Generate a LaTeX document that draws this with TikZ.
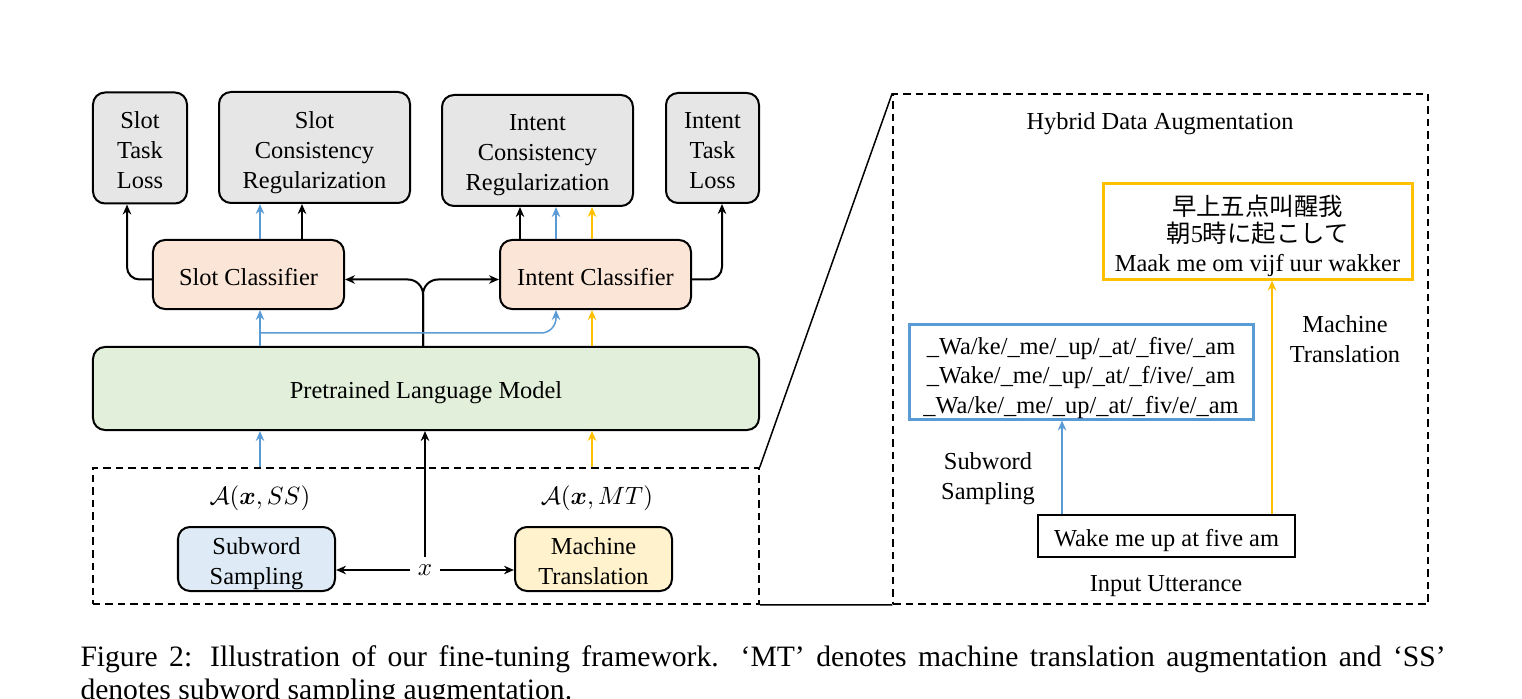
\documentclass[tikz,border=0pt]{standalone}
\usepackage{amsmath}
\usepackage{amssymb}
\usepackage{fontspec}
\setmainfont{Liberation Serif}
\newfontfamily\zhfont{Noto Sans CJK SC}
\newfontfamily\jafont{Noto Sans CJK JP}
\usetikzlibrary{calc,arrows.meta}
\definecolor{lossgray}{HTML}{E6E6E6}
\definecolor{clspeach}{HTML}{FBE5D6}
\definecolor{plmgreen}{HTML}{E2EFDA}
\definecolor{ssblue}{HTML}{DEEBF7}
\definecolor{mtyellow}{HTML}{FFF2CC}
\definecolor{lineblue}{HTML}{5B9BD5}
\definecolor{lineyellow}{HTML}{FFC000}
\newcommand\dgfont{\fontsize{9.76}{12}\selectfont}
\newcommand\capfont{\fontsize{11.84}{13.2}\selectfont}
\newcommand\boxlines[2][1.9pt]{\raisebox{-#1}[\height][\depth]{\begin{tabular}{@{}c@{}}#2\end{tabular}}}

\begin{document}
\begin{tikzpicture}[
x=0.4pt, y=-0.4pt,
box/.style={draw, line width=0.8pt, rounded corners=4.8pt, inner sep=0pt, font=\dgfont},
plainbox/.style={draw, inner sep=0pt, font=\dgfont},
dashbox/.style={draw, line width=0.6pt, dash pattern=on 3pt off 2pt, inner sep=0pt},
label/.style={align=center, inner sep=0pt, font=\dgfont},
karrow/.style={-{Stealth[length=4pt,width=3.4pt]}, line width=0.8pt},
barrow/.style={-{Stealth[length=4pt,width=3.4pt]}, line width=0.6pt, lineblue},
yarrow/.style={-{Stealth[length=4pt,width=3.4pt]}, line width=0.6pt, lineyellow}
]

\useasboundingbox (0,0) rectangle (1522,699);

\node[dashbox, minimum width=266.4pt, minimum height=54.4pt] (AUG) at (426,536) {};
\node[dashbox, minimum width=214pt, minimum height=204pt] (HDA) at (1160.5,349) {};
\draw[line width=0.6pt] (AUG.north east) -- (HDA.north west);
\draw[line width=0.6pt] (AUG.south east) -- (HDA.south west);

\node[box, fill=lossgray, minimum width=37.6pt, minimum height=44.4pt] (SL) at (140,148) {\boxlines{Slot\\Task\\Loss}};
\node[box, fill=lossgray, minimum width=76.4pt, minimum height=44.4pt] (SCR) at (314.5,147.5) {\boxlines{Slot\\Consistency\\Regularization}};
\node[box, fill=lossgray, minimum width=76.4pt, minimum height=44.4pt] (ICR) at (537.5,150.5) {\boxlines[1.5pt]{Intent\\Consistency\\Regularization}};
\node[box, fill=lossgray, minimum width=37.2pt, minimum height=44pt] (IL) at (712.5,148) {\boxlines{Intent\\Task\\Loss}};

\node[box, fill=clspeach, minimum width=76.4pt, minimum height=27.6pt] (SC) at (248.5,274.5) {\boxlines{Slot Classifier}};
\node[box, fill=clspeach, minimum width=76.4pt, minimum height=27.6pt] (IC) at (595.5,274.5) {\boxlines{Intent Classifier}};
\node[box, fill=plmgreen, minimum width=266.4pt, minimum height=33.2pt] (PLM) at (426,388.5) {\boxlines[1.5pt]{Pretrained Language Model}};

\node[box, fill=ssblue, minimum width=62.8pt, minimum height=25.6pt] (SS) at (256.5,559) {\boxlines[1.7pt]{Subword\\Sampling}};
\node[box, fill=mtyellow, minimum width=62.8pt, minimum height=25.6pt] (MT) at (593.5,559) {\boxlines[1.7pt]{Machine\\Translation}};
\node[label, inner sep=3pt] (X) at (425,570) {$x$};
\node[label] (ASS) at (260,498) {$\mathcal{A}(\boldsymbol{x}, SS)$};
\node[label] (AMT) at (597,498) {$\mathcal{A}(\boldsymbol{x}, MT)$};

\coordinate (cL) at (127,0);
\coordinate (cB1) at (260,0);
\coordinate (cK1) at (302,0);
\coordinate (cX) at (423,0);
\coordinate (cK2) at (520,0);
\coordinate (cB2) at (556,0);
\coordinate (cY) at (592,0);
\coordinate (cR) at (722,0);
\coordinate (B) at (260,333);

\draw[karrow, rounded corners=5pt] ([yshift=-2pt]SC.west) -| (SL.south -| cL);
\draw[barrow] (SC.north -| cB1) -- (SCR.south -| cB1);
\draw[karrow] (SC.north -| cK1) -- (SCR.south -| cK1);
\draw[karrow] (IC.north -| cK2) -- (ICR.south -| cK2);
\draw[barrow] (IC.north -| cB2) -- (ICR.south -| cB2);
\draw[yarrow] (IC.north -| cY) -- (ICR.south -| cY);
\draw[karrow, rounded corners=5pt] ([yshift=-2pt]IC.east) -| (IL.south -| cR);

\draw[karrow, rounded corners=6pt] (PLM.north -| cX) |- ([yshift=-2pt]SC.east);
\draw[karrow, rounded corners=6pt] (PLM.north -| cX) |- ([yshift=-2pt]IC.west);
\draw[barrow] (PLM.north -| cB1) -- (SC.south -| cB1);
\draw[barrow, rounded corners=6pt] (B) -| (IC.south -| cB2);
\draw[yarrow] (PLM.north -| cY) -- (IC.south -| cY);

\draw[barrow] (AUG.north -| cB1) -- (PLM.south -| cB1);
\draw[karrow] (X.north) -- (PLM.south -| X.north);
\draw[yarrow] (AUG.north -| cY) -- (PLM.south -| cY);
\draw[karrow] (X.west) -- (X.west -| SS.east);
\draw[karrow] (X.east) -- (X.east -| MT.west);

\node[label] (TITLE) at (1160,124) {Hybrid Data Augmentation};
\node[plainbox, draw=lineyellow, line width=1.2pt, minimum width=123.6pt, minimum height=38pt] (TR) at (1257.5,231.5)
  {\boxlines[2.4pt]{{\zhfont 早上五点叫醒我}\\[-1pt]{\jafont 朝}5{\jafont 時に起こして}\\[-0.4pt]Maak me om vijf uur wakker}};
\node[plainbox, draw=lineblue, line width=1.2pt, minimum width=137.6pt, minimum height=37.6pt, font=\fontsize{9.76}{11.8}\selectfont] (SUB) at (1081,372)
  {\boxlines[2.3pt]{\_Wa/ke/\_me/\_up/\_at/\_five/\_am\\\_Wake/\_me/\_up/\_at/\_f/ive/\_am\\\_Wa/ke/\_me/\_up/\_at/\_fiv/e/\_am}};
\node[plainbox, line width=0.8pt, minimum width=102.8pt, minimum height=16.8pt] (IN) at (1166.5,536) {\boxlines[1.7pt]{Wake me up at five am}};
\node[label] (INL) at (1166,586) {Input Utterance};
\node[label] (MTL) at (1345,339) {Machine\\Translation};
\node[label] (SSL) at (988,479) {Subword\\Sampling};

\coordinate (cS) at (1062,0);
\coordinate (cT) at (1272,0);
\draw[barrow] (IN.north -| cS) -- (SUB.south -| cS);
\draw[yarrow] (IN.north -| cT) -- (TR.south -| cT);

\node[anchor=north west, inner sep=0pt, text width=546pt, align=justify, font=\capfont] (CAP) at (80,645)
  {Figure 2: Illustration of our fine-tuning framework. `MT' denotes machine translation augmentation and `SS'\linebreak denotes subword sampling augmentation.};
\end{tikzpicture}
\end{document}
